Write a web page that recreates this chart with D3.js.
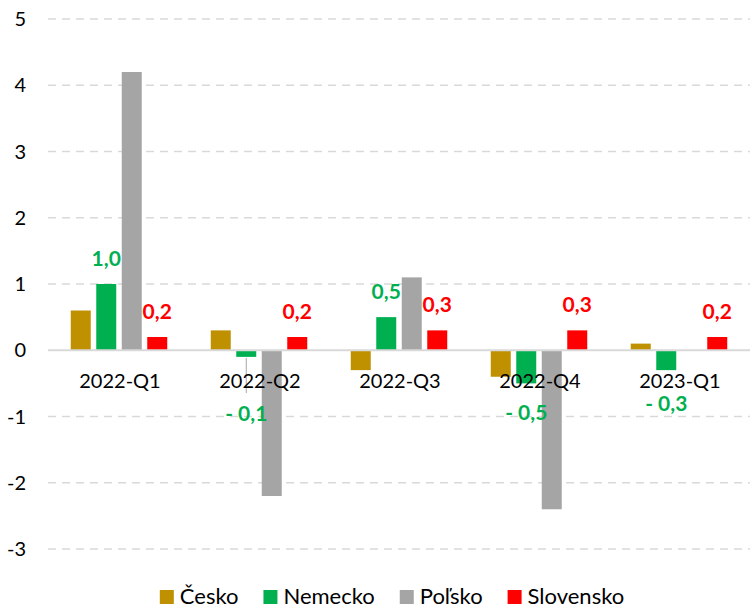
<!DOCTYPE html>
<html>
<head>
<meta charset="utf-8">
<script src="https://cdn.jsdelivr.net/npm/d3@7"></script>
<style>
  body { margin: 0; background: #fff; }
  svg { font-family: Lato, "Open Sans", sans-serif; }
</style>
</head>
<body>
<svg id="chart" width="750" height="610"></svg>
<script>
// Data
const quarters = ['2022-Q1', '2022-Q2', '2022-Q3', '2022-Q4', '2023-Q1'];
const countries = ['Česko', 'Nemecko', 'Poľsko', 'Slovensko'];
const cesko = [0.6, 0.3, -0.3, -0.4, 0.1];
const nemecko = [1.0, -0.1, 0.5, -0.5, -0.3];
const polsko = [4.2, -2.2, 1.1, -2.4, 0];
const slovensko = [0.2, 0.2, 0.3, 0.3, 0.2];
const yTicks = [5, 4, 3, 2, 1, 0, -1, -2, -3];

const seriesValues = [cesko, nemecko, polsko, slovensko];
const colors = ['#BF9000', '#00B050', '#A5A5A5', '#FF0000'];
// only Nemecko and Slovensko get data labels
const labelled = { 'Nemecko': '#00B050', 'Slovensko': '#FF0000' };
// hand moved labels below negative bars (like in the excel chart)
const negLabelY = { '2022-Q2': 421, '2022-Q4': 420, '2023-Q1': 411 };

const svg = d3.select('#chart');

const x = d3.scaleBand().domain(quarters).range([50, 750]);
const xInner = d3.scaleBand().domain(countries)
  .range([18, 120])
  .paddingInner(0.216)
  .paddingOuter(0.108);
const y = d3.scaleLinear().domain([-3, 5]).range([549, 19]);

// Gridlines
svg.append('g')
  .selectAll('line')
  .data(yTicks.filter(t => t !== 0))
  .enter()
  .append('line')
  .attr('x1', 48).attr('x2', 750)
  .attr('y1', d => y(d)).attr('y2', d => y(d))
  .attr('stroke', '#D9D9D9')
  .attr('stroke-width', 1.5)
  .attr('stroke-dasharray', '8,6');

// Y axis labels
svg.append('g')
  .selectAll('text')
  .data(yTicks)
  .enter()
  .append('text')
  .attr('x', 26)
  .attr('y', d => y(d) + 7)
  .attr('text-anchor', 'end')
  .attr('font-size', 20)
  .attr('fill', '#000')
  .text(d => d);

// Bars
const rows = [];
quarters.forEach((q, i) => {
  countries.forEach((c, j) => {
    rows.push({ quarter: q, country: c, value: seriesValues[j][i], color: colors[j] });
  });
});

svg.append('g')
  .selectAll('rect')
  .data(rows.filter(d => d.value !== 0))
  .enter()
  .append('rect')
  .attr('x', d => x(d.quarter) + xInner(d.country))
  .attr('width', xInner.bandwidth())
  .attr('y', d => y(Math.max(0, d.value)))
  .attr('height', d => Math.abs(y(d.value) - y(0)))
  .attr('fill', d => d.color);

// Zero line
svg.append('line')
  .attr('x1', 48).attr('x2', 750)
  .attr('y1', y(0)).attr('y2', y(0))
  .attr('stroke', '#D9D9D9')
  .attr('stroke-width', 2);

// Leader line for the moved Q2 label
const q2 = rows.find(d => d.quarter === '2022-Q2' && d.country === 'Nemecko');
svg.append('line')
  .attr('x1', x(q2.quarter) + xInner(q2.country) + xInner.bandwidth() / 2)
  .attr('x2', x(q2.quarter) + xInner(q2.country) + xInner.bandwidth() / 2)
  .attr('y1', y(q2.value) + 1)
  .attr('y2', negLabelY[q2.quarter] - 28)
  .attr('stroke', '#A6A6A6')
  .attr('stroke-width', 1);

// Category labels (drawn over the bars)
svg.append('g')
  .selectAll('text')
  .data(quarters)
  .enter()
  .append('text')
  .attr('x', d => x(d) + x.bandwidth() / 2)
  .attr('y', 388)
  .attr('text-anchor', 'middle')
  .attr('font-size', 20)
  .attr('fill', '#000')
  .text(d => d);

// Data labels
const fmt = v => (v < 0 ? '- ' : '') + d3.format('.1f')(Math.abs(v)).replace('.', ',');
svg.append('g')
  .selectAll('text')
  .data(rows.filter(d => labelled[d.country]))
  .enter()
  .append('text')
  .attr('x', d => x(d.quarter) + xInner(d.country) + xInner.bandwidth() / 2)
  .attr('y', d => d.value >= 0 ? y(d.value) - 18 : negLabelY[d.quarter])
  .attr('text-anchor', 'middle')
  .attr('font-size', 21)
  .attr('font-weight', 'bold')
  .attr('fill', d => labelled[d.country])
  .text(d => fmt(d.value));

// Legend
const legend = svg.append('g');
let lx = 0;
countries.forEach((c, i) => {
  const item = legend.append('g').attr('transform', `translate(${lx},0)`);
  item.append('rect')
    .attr('x', 0).attr('y', 590)
    .attr('width', 14).attr('height', 14)
    .attr('fill', colors[i]);
  const t = item.append('text')
    .attr('x', 20).attr('y', 604)
    .attr('font-size', 22)
    .attr('fill', '#000')
    .text(c);
  lx += 20 + t.node().getComputedTextLength() + 25;
});
const legendWidth = lx - 25;
legend.attr('transform', `translate(${392 - legendWidth / 2},0)`);
</script>
</body>
</html>
